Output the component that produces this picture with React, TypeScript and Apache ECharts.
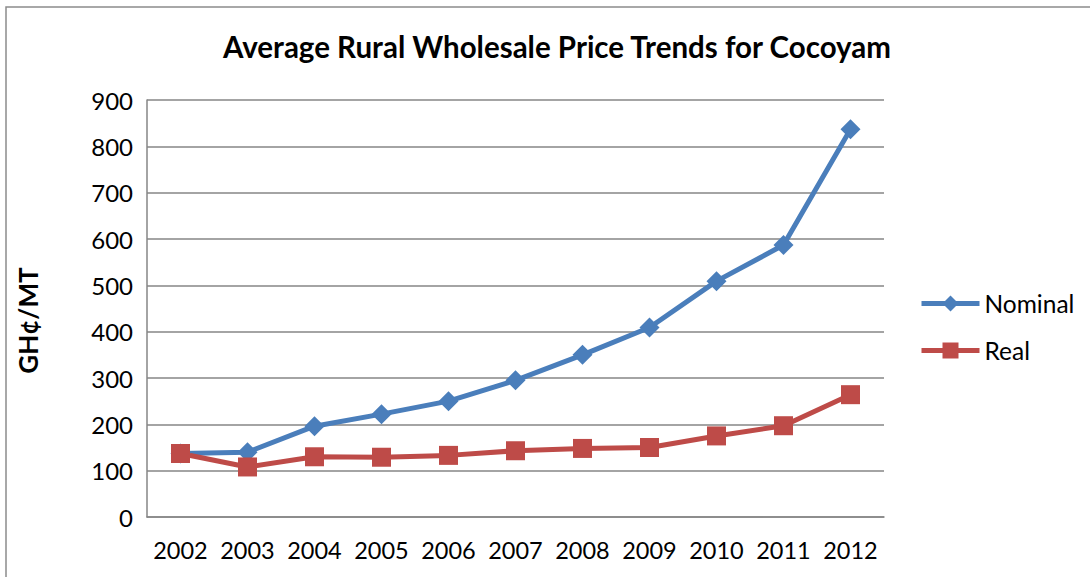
import React, { useEffect, useRef } from "react";
import * as echarts from "echarts";

const years = ["2002", "2003", "2004", "2005", "2006", "2007", "2008", "2009", "2010", "2011", "2012"];
const nominal = [137, 140, 196, 222, 250, 295, 350, 409, 509, 587, 837];
const real = [137, 108, 130, 129, 133, 143, 148, 150, 175, 197, 264];
const yTicks = { min: 0, max: 900, interval: 100 };

const FONT = "Lato, 'Open Sans', sans-serif";

export default function App() {
  const ref = useRef<HTMLDivElement>(null);
  useEffect(() => {
    const chart = echarts.init(ref.current!, null, { renderer: "svg" });
    chart.setOption({
      animation: false,
      backgroundColor: "#ffffff",
      title: {
        text: "Average Rural Wholesale Price Trends for Cocoyam",
        left: 552,
        top: 26,
        textAlign: "center",
        textStyle: { fontFamily: FONT, fontSize: 29.5, fontWeight: "bold", color: "#000" },
      },
      graphic: [
        {
          type: "rect",
          shape: { x: 6, y: 7, width: 1200, height: 700 },
          style: { fill: "none", stroke: "#8c8c8c", lineWidth: 1.5 },
          silent: true,
        },
      ],
      grid: { left: 147, right: 206, top: 100, bottom: 60, containLabel: false },
      legend: {
        orient: "vertical",
        left: 914,
        top: 286,
        itemWidth: 58,
        itemHeight: 20,
        itemGap: 22,
        lineStyle: { width: 5 },
        textStyle: { fontFamily: FONT, fontSize: 24.5, color: "#000" },
        data: ["Nominal", "Real"],
      },
      xAxis: {
        type: "category",
        data: years,
        boundaryGap: true,
        axisLine: { lineStyle: { color: "#868686", width: 1.5 } },
        axisTick: { show: false },
        axisLabel: { fontFamily: FONT, fontSize: 23.5, color: "#000", margin: 21, interval: 0 },
      },
      yAxis: {
        type: "value",
        min: yTicks.min,
        max: yTicks.max,
        interval: yTicks.interval,
        name: "GH¢/MT",
        nameLocation: "middle",
        nameGap: 106,
        nameRotate: 90,
        nameTextStyle: {
          fontFamily: FONT,
          fontSize: 26,
          fontWeight: "bold",
          color: "#000",
          padding: [0, 24, 0, 0],
        },
        axisLine: { show: true, lineStyle: { color: "#868686", width: 1.5 } },
        axisTick: { show: false },
        splitLine: { lineStyle: { color: "#868686", width: 1.5 } },
        axisLabel: { fontFamily: FONT, fontSize: 24, color: "#000", margin: 14 },
      },
      series: [
        {
          name: "Nominal",
          type: "line",
          data: nominal,
          color: "#4A7EBB",
          symbol: "diamond",
          symbolSize: 20,
          lineStyle: { width: 5, color: "#4A7EBB" },
          itemStyle: { color: "#4A7EBB" },
        },
        {
          name: "Real",
          type: "line",
          data: real,
          color: "#BE4B48",
          symbol: "rect",
          symbolSize: 19,
          lineStyle: { width: 5, color: "#BE4B48" },
          itemStyle: { color: "#BE4B48" },
        },
      ],
    });
    return () => chart.dispose();
  }, []);
  return (
    <div
      ref={ref}
      style={{ position: "fixed", left: 0, top: 0, width: 1090, height: 577 }}
    />
  );
}
